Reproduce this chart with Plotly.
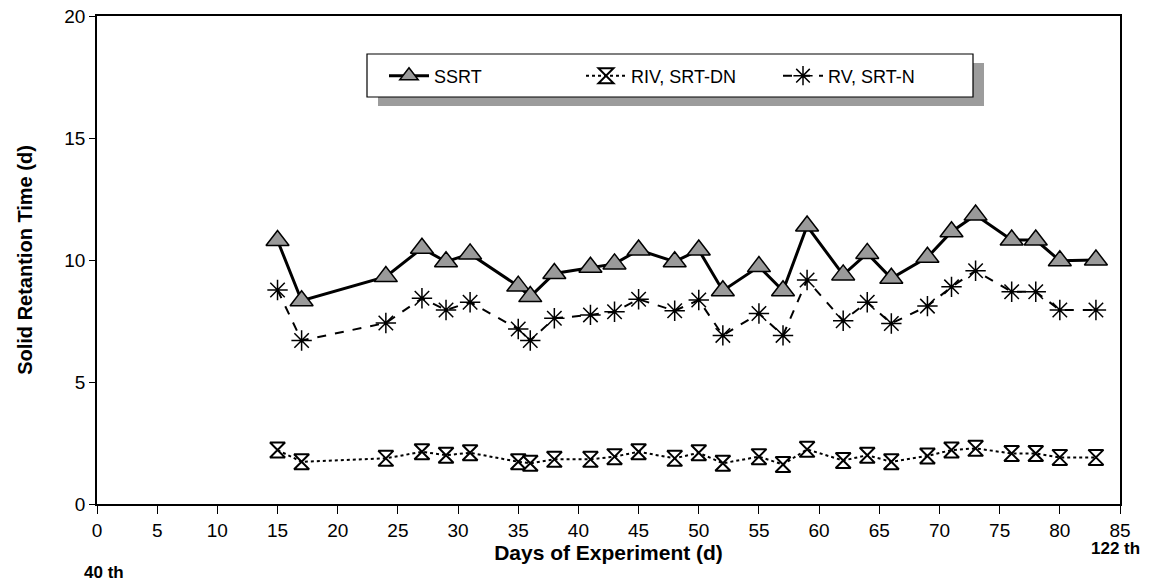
import plotly.graph_objects as go

days = [15, 17, 24, 27, 29, 31, 35, 36, 38, 41, 43, 45, 48, 50, 52, 55, 57, 59,
        62, 64, 66, 69, 71, 73, 76, 78, 80, 83]
ssrt = [10.8, 8.33, 9.32, 10.48, 9.93, 10.25, 8.93, 8.5, 9.45, 9.7, 9.84, 10.41,
        9.93, 10.41, 8.74, 9.73, 8.74, 11.39, 9.39, 10.27, 9.25, 10.11, 11.16,
        11.84, 10.82, 10.82, 9.97, 10.0]
riv_srt_dn = [2.21, 1.73, 1.87, 2.14, 2.0, 2.1, 1.73, 1.67, 1.83, 1.83, 1.94, 2.14,
              1.87, 2.1, 1.67, 1.94, 1.62, 2.24, 1.78, 2.0, 1.73, 1.97, 2.21,
              2.28, 2.07, 2.07, 1.91, 1.91]
rv_srt_n = [8.77, 6.70, 7.42, 8.43, 7.95, 8.27, 7.17, 6.70, 7.61, 7.75, 7.88, 8.39,
            7.92, 8.36, 6.91, 7.81, 6.91, 9.18, 7.51, 8.27, 7.4, 8.11, 8.9,
            9.56, 8.7, 8.7, 7.95, 7.95]
x_ticks = list(range(0, 90, 5))
y_ticks = [0, 5, 10, 15, 20]

FONT = "Liberation Sans, Arial, sans-serif"

# plot area in page pixels: x 97..1120, y 16..504 (body margin removed below)
PW, PH = 1023, 488

def px(x):
    return (x - 97) / PW

def py(y):
    return (504 - y) / PH

fig = go.Figure()
fig.add_trace(go.Scatter(
    x=days, y=ssrt, name="SSRT", mode="lines+markers",
    line=dict(color="black", width=3),
    marker=dict(symbol="triangle-up", size=20, color="#9a9a9a",
                line=dict(color="black", width=1.5)),
))
fig.add_trace(go.Scatter(
    x=days, y=riv_srt_dn, name="RIV, SRT-DN", mode="lines+markers",
    line=dict(color="black", width=2, dash="dot"),
    marker=dict(symbol="hourglass", size=15, color="white",
                line=dict(color="black", width=2)),
))
fig.add_trace(go.Scatter(
    x=days, y=rv_srt_n, name="RV, SRT-N", mode="lines+markers",
    line=dict(color="black", width=2, dash="dash"),
    marker=dict(symbol="asterisk-open", size=17,
                line=dict(color="black", width=1.5)),
))

# legend shadow and box
fig.add_shape(type="rect", xref="paper", yref="paper",
              x0=px(378), x1=px(984), y0=py(106), y1=py(63),
              fillcolor="#9c9c9c", line=dict(width=0), layer="above")
fig.add_shape(type="rect", xref="paper", yref="paper",
              x0=px(367), x1=px(973), y0=py(97), y1=py(54),
              fillcolor="white", line=dict(color="black", width=1.2), layer="above")

fig.add_annotation(text="<b>40 th</b>", xref="paper", yref="paper",
                   x=px(104), y=py(572), xanchor="center", yanchor="middle",
                   showarrow=False,
                   font=dict(family=FONT, size=17, color="black"))
fig.add_annotation(text="<b>122 th</b>", xref="paper", yref="paper",
                   x=px(1115), y=py(548), xanchor="center", yanchor="middle",
                   showarrow=False,
                   font=dict(family=FONT, size=17, color="black"))

fig.update_layout(
    width=1153, height=581,
    margin=dict(l=97, r=33, t=16, b=77),
    paper_bgcolor="white", plot_bgcolor="white",
    font=dict(family=FONT, color="black"),
    showlegend=True,
    legend=dict(orientation="h", x=px(384), y=py(76),
                xanchor="left", yanchor="middle",
                bgcolor="rgba(0,0,0,0)", borderwidth=0,
                font=dict(family=FONT, size=18, color="black"),
                entrywidth=142, itemwidth=40),
    xaxis=dict(range=[0, 85], tickvals=x_ticks, ticks="outside", ticklen=8,
               tickwidth=1.2, tickcolor="black", showgrid=False, zeroline=False,
               showline=True, linecolor="black", linewidth=1.5, mirror=True,
               automargin=False, ticklabeloverflow="allow",
               tickfont=dict(family=FONT, size=19),
               title=dict(text="<b>Days of Experiment (d)</b>", standoff=6,
                          font=dict(family=FONT, size=21))),
    yaxis=dict(range=[0, 20], tickvals=y_ticks, ticks="outside", ticklen=6,
               tickwidth=1.2, tickcolor="black", showgrid=False, zeroline=False,
               showline=True, linecolor="black", linewidth=1.5, mirror=True,
               automargin=False, ticklabeloverflow="allow",
               tickfont=dict(family=FONT, size=19),
               title=dict(text="<b>Solid Retantion Time (d)</b>", standoff=26,
                          font=dict(family=FONT, size=20))),
)

fig.write_html("out.html",
               config={"displayModeBar": False},
               post_script="document.body.style.margin='0px';"
                           "document.body.style.overflow='hidden';")
